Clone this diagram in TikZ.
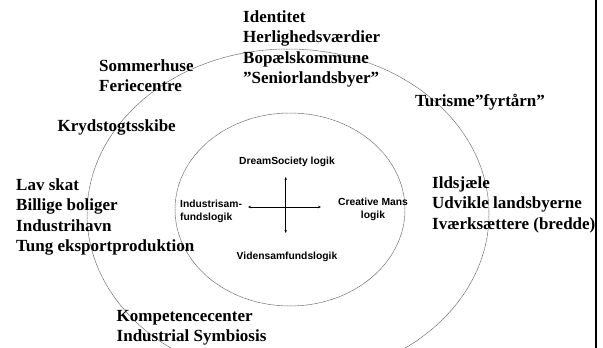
\documentclass[tikz,border=0pt]{standalone}
\usepackage{fontspec}
\setmainfont{Liberation Serif}
\newfontfamily\arialfont{Liberation Sans}
\usetikzlibrary{arrows.meta}
\begin{document}
\begin{tikzpicture}[x=1pt,y=-1pt,
 ring/.style={draw=black!60,line width=0.5pt,dash pattern=on 1.2pt off 0.4pt},
 outer/.style={anchor=base west,inner sep=0pt,align=left,font=\fontsize{17}{20.5}\selectfont\bfseries},
 inner/.style={inner sep=0pt,font=\arialfont\fontsize{10.3}{13}\selectfont\bfseries},
 axis/.style={line width=0.8pt,{Stealth[length=3pt,width=2.5pt]}-{Stealth[length=3pt,width=2.5pt]}}]
\useasboundingbox (0,0) rectangle (603,348);
\fill[white] (0,0) rectangle (603,348);
\begin{scope}
\clip (0,0) rectangle (603,348);
\draw[ring] (288,214) ellipse [x radius=201, y radius=165];
\end{scope}
\draw[ring] (290,209.5) ellipse [x radius=115, y radius=96.5];
\draw[line width=2pt] (596,0) -- (596,348);
% axes
\coordinate (vt) at (285.7,177);
\coordinate (vb) at (285.7,233);
\coordinate (hl) at (248,207);
\coordinate (hr) at (321,207);
\draw[axis] (vt) -- (vb);
\draw[axis] (hl) -- (hr);
% inner labels
\node[inner] (dream) at (287,162) {DreamSociety logik};
\node[inner,anchor=west,align=left] (indu) at (180,211) {Industrisam-\\fundslogik};
\node[inner,align=center] (crea) at (373,209) {Creative Mans\\logik};
\node[inner] (viden) at (287,257) {Vidensamfundslogik};
% outer labels (anchor = baseline of last line)
\node[outer] (ident) at (243,83.5) {Identitet\\Herlighedsværdier\\Bopælskommune\\”Seniorlandsbyer”};
\node[outer] (somm) at (99,91.5) {Sommerhuse\\Feriecentre};
\node[outer] (kryd) at (57.5,131) {Krydstogtsskibe};
\node[outer] (turi) at (415,106) {Turisme”fyrtårn”};
\node[outer] (lav) at (16,251.5) {Lav skat\\Billige boliger\\Industrihavn\\Tung eksportproduktion};
\node[outer] (ilds) at (432,229) {Ildsjæle\\Udvikle landsbyerne\\Iværksættere (bredde)};
\node[outer] (komp) at (116.5,341.5) {Kompetencecenter\\Industrial Symbiosis};
\end{tikzpicture}
\end{document}
